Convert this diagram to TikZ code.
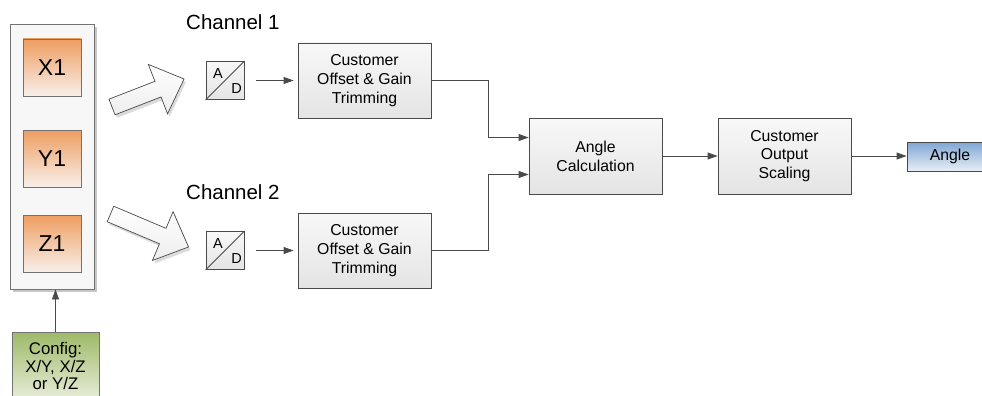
\documentclass[tikz,border=0pt]{standalone}
\usepackage{fontspec}
\setmainfont{Liberation Sans}
\usetikzlibrary{arrows.meta}
\definecolor{ln}{HTML}{4A4A4A}
\definecolor{bxtop}{HTML}{F8F8F8}
\definecolor{bxbot}{HTML}{E4E4E4}
\definecolor{ortop}{HTML}{EE9D60}
\definecolor{orbot}{HTML}{F8F0EA}
\definecolor{grtop}{HTML}{9EB968}
\definecolor{grbot}{HTML}{E8EEDA}
\definecolor{bltop}{HTML}{7FA6D4}
\definecolor{blbot}{HTML}{E8EEF6}
\newcommand\bigarrowshape[4]{%
  \fill[black!14, shift={(#1+2,#2+3)}, rotate=#3]
    (0,-8.4) -- (#4-28,-8.4) -- (#4-28,-26.5) -- (#4,0) -- (#4-28,26.5) -- (#4-28,8.4) -- (0,8.4) -- cycle;
  \draw[ln, line width=0.7pt, top color=white, bottom color=black!7, shift={(#1,#2)}, rotate=#3]
    (0,-8.4) -- (#4-28,-8.4) -- (#4-28,-26.5) -- (#4,0) -- (#4-28,26.5) -- (#4-28,8.4) -- (0,8.4) -- cycle;}
\begin{document}
\begin{tikzpicture}[x=1pt,y=-1pt,
  boxfont/.style={font=\fontsize{15.8}{18.8}\selectfont},
  procbox/.style={draw=ln, line width=0.8pt, top color=bxtop, bottom color=bxbot,
    minimum width=133pt, minimum height=75pt, align=center, inner sep=2pt, boxfont},
  sensbox/.style={draw=black!55, line width=0.8pt, top color=ortop, bottom color=orbot,
    minimum width=58pt, minimum height=57pt, font=\fontsize{23}{26}\selectfont},
  adcbox/.style={draw=ln, line width=0.8pt, top color=bxtop, bottom color=bxbot,
    minimum width=38pt, minimum height=38pt, inner sep=0pt},
  adlbl/.style={font=\fontsize{14.5}{16}\selectfont, inner sep=0pt},
  conn/.style={draw=ln, line width=0.8pt, -{Triangle[length=10pt,width=7pt]}},
  chanlbl/.style={anchor=west, font=\fontsize{20.5}{24}\selectfont, inner sep=0pt}]
\useasboundingbox (0,0) rectangle (982,396);
\clip (0,0) rectangle (982,396);
% left panel
\fill[black!22] (13,27) rectangle (97,292);
\node[draw=black!55, line width=0.8pt, fill=black!3, minimum width=84pt, minimum height=265pt, inner sep=0pt] (panel) at (52,156.5) {};
\node[sensbox] (x1) at (52,67.5) {X1};
\node[sensbox] (y1) at (52,158.5) {Y1};
\node[sensbox] (z1) at (52,243.5) {Z1};
% config
\node[draw=black!55, line width=0.8pt, top color=grtop, bottom color=grbot, minimum width=87pt, minimum height=68pt,
  align=center, inner sep=1pt, font=\fontsize{16.8}{17.8}\selectfont] (config) at (55.5,366) {Config:\\X/Y, X/Z\\ or Y/Z};
\draw[conn] (config.north) -- (config.north |- panel.south);
% big arrows
\bigarrowshape{112}{107}{21.25}{77.3}
\bigarrowshape{110.5}{214}{-22.9}{84.7}
% channel labels
\node[chanlbl] (ch1) at (186,22) {Channel 1};
\node[chanlbl] (ch2) at (186,192) {Channel 2};
% ADCs
\node[adcbox] (adc1) at (225,80.5) {};
\draw[ln, line width=0.8pt] (adc1.south west) -- (adc1.north east);
\node[adlbl] (a1) at (218,73.5) {A};
\node[adlbl] (d1) at (236.5,88.5) {D};
\node[adcbox] (adc2) at (225,250.5) {};
\draw[ln, line width=0.8pt] (adc2.south west) -- (adc2.north east);
\node[adlbl] (a2) at (218,243.5) {A};
\node[adlbl] (d2) at (236.5,258.5) {D};
% trimming
\node[procbox] (trim1) at (364.5,80.5) {Customer\\Offset \& Gain\\Trimming};
\node[procbox] (trim2) at (364.5,250.5) {Customer\\Offset \& Gain\\Trimming};
\draw[conn, shorten <=12pt, shorten >=4pt] (adc1.east) -- (trim1.west);
\draw[conn, shorten <=12pt, shorten >=4pt] (adc2.east) -- (trim2.west);
% angle calc
\node[procbox, minimum height=76pt] (calc) at (595.5,156) {Angle\\Calculation};
\node[procbox, minimum height=76pt] (scal) at (784.5,156) {Customer\\Output\\Scaling};
\node[draw=ln, line width=0.8pt, top color=bltop, bottom color=blbot, minimum width=86pt, minimum height=29pt,
  boxfont, inner sep=0pt] (out) at (950,156.5) {Angle};
\coordinate (jx) at (488,0);
\draw[conn] (trim1.east) -- (trim1.east -| jx) |- ([yshift=18.5pt]calc.west);
\draw[conn] (trim2.east) -- (trim2.east -| jx) |- ([yshift=-18.5pt]calc.west);
\draw[conn] (calc.east) -- (scal.west);
\draw[conn] (scal.east) -- (scal.east -| out.west);
\end{tikzpicture}
\end{document}
